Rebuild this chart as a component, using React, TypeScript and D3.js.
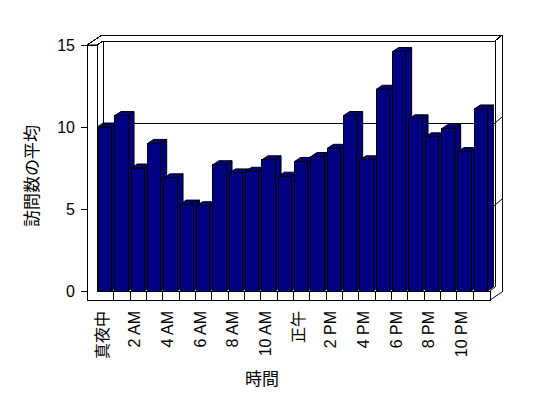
import React from "react";
import * as d3 from "d3";

const categories = [
  "真夜中", "1 AM", "2 AM", "3 AM", "4 AM", "5 AM", "6 AM", "7 AM", "8 AM", "9 AM", "10 AM", "11 AM",
  "正午", "1 PM", "2 PM", "3 PM", "4 PM", "5 PM", "6 PM", "7 PM", "8 PM", "9 PM", "10 PM", "11 PM",
];
const values = [
  10.0, 10.7, 7.5, 9.0, 6.9, 5.3, 5.2, 7.7, 7.2, 7.3, 8.0, 7.0,
  7.9, 8.2, 8.7, 10.7, 8.0, 12.3, 14.6, 10.5, 9.4, 9.9, 8.5, 11.1,
];
const yTicks = [0, 5, 10, 15];
const xTitle = "時間";
const yTitle = "訪問数の平均";

const FONT = "'Liberation Sans', 'Noto Sans CJK JP', Arial, sans-serif";
const BAR = "#000080";

export default function App() {
  const W = 548, H = 398;
  const left = 97, right = 489;
  const x = d3.scaleBand<string>().domain(categories).range([left, right]).padding(0);
  const y = d3.scaleLinear().domain([0, 15]).range([291, 45]);
  const step = x.step();
  const bw = step * 0.8;
  const dx = 6, dy = -4; // depth of plot (front -> inner back wall)
  const wallT = 10; // left wall thickness
  const floorB = y(0) + 9; // bottom of floor front face
  const outerL = left - wallT; // 87
  const top = y(15);
  const innerR = right + dx; // right edge inner back wall
  const outerR = innerR + 7;
  const outerTop = top - 10;
  const line = d3.line<[number, number]>();

  const sc = (v: number) => Math.round(v) + 0.5;

  return (
    <svg width={W} height={H} style={{ position: "absolute", left: 0, top: 0, background: "#fff" }}>
      <rect x={0} y={0} width={W} height={H} fill="#fff" />
      {/* wall top faces */}
      <path
        d={line([
          [outerL, top], [outerL + 15, outerTop], [outerR, outerTop], [innerR, top + dy],
          [left + dx, top + dy], [left, top],
        ])! + "Z"}
        fill="#fff" stroke="#000" shapeRendering="crispEdges"
      />
      <line x1={outerL} y1={top} x2={left} y2={top} stroke="#000" />
      {/* inner back corner lines */}
      <line x1={sc(left + dx)} y1={top + dy} x2={sc(left + dx)} y2={y(0) + dy} stroke="#000" shapeRendering="crispEdges" />
      <line x1={sc(innerR)} y1={top + dy} x2={sc(innerR)} y2={y(0) + dy} stroke="#000" shapeRendering="crispEdges" />
      <line x1={sc(outerR)} y1={outerTop} x2={sc(outerR)} y2={y(0) + 1} stroke="#000" shapeRendering="crispEdges" />
      {/* gridlines */}
      {yTicks.filter((t) => t > 0 && t < 15).map((t) => (
        <g key={t}>
          <line x1={left} y1={y(t)} x2={left + dx} y2={y(t) + dy} stroke="#000" />
          <line x1={left + dx} y1={sc(y(t) + dy)} x2={innerR} y2={sc(y(t) + dy)} stroke="#000" shapeRendering="crispEdges" />
          <line x1={innerR} y1={y(t) + dy} x2={outerR} y2={y(t) + dy - 6} stroke="#000" />
          <line x1={outerL} y1={sc(y(t))} x2={left} y2={sc(y(t))} stroke="#000" shapeRendering="crispEdges" />
        </g>
      ))}
      {/* y ticks outside */}
      {yTicks.map((t) => (
        <line key={"t" + t} x1={outerL - 6} y1={sc(y(t))} x2={outerL} y2={sc(y(t))} stroke="#000" shapeRendering="crispEdges" />
      ))}
      {/* floor right end */}
      <path
        d={line([[right + 1, y(0)], [innerR, y(0) + dy]])!}
        stroke="#000" fill="none"
      />
      <path
        d={line([[right + 1, floorB], [outerR, floorB - 8]])!}
        stroke="#000" fill="none"
      />
      {/* left wall front + floor front */}
      <path
        d={line([
          [sc(outerL), top], [sc(left), top], [sc(left), sc(y(0))], [sc(right + 1), sc(y(0))],
          [sc(right + 1), sc(floorB)], [sc(outerL), sc(floorB)],
        ])! + "Z"}
        fill="#fff" stroke="#000" shapeRendering="crispEdges"
      />
      {categories.slice(1).map((c) => (
        <line key={"d" + c} x1={sc(x(c)!)} y1={sc(y(0))} x2={sc(x(c)!)} y2={sc(floorB)} stroke="#000" shapeRendering="crispEdges" />
      ))}
      {/* bars */}
      {categories.map((c, i) => {
        const x0 = x(c)! + (step - bw) / 2;
        const x1 = x0 + bw;
        const yt = y(values[i]);
        const yb = y(0);
        return (
          <g key={c} fill={BAR} stroke="#000" strokeWidth={1} strokeLinejoin="miter">
            <path d={line([[x1, yt], [x1 + dx, yt + dy], [x1 + dx, yb + dy], [x1, yb]])! + "Z"} />
            <path d={line([[x0, yt], [x0 + dx, yt + dy], [x1 + dx, yt + dy], [x1, yt]])! + "Z"} />
            <rect x={x0} y={yt} width={bw} height={yb - yt} shapeRendering="crispEdges" />
          </g>
        );
      })}
      {/* y tick labels */}
      {yTicks.map((t) => (
        <text key={"l" + t} x={75} y={y(t)} textAnchor="end" dominantBaseline="central"
          fontFamily={FONT} fontSize={16} fill="#000">{t}</text>
      ))}
      {/* x labels */}
      {categories.map((c, i) => i % 2 === 0 ? (
        <text key={"x" + c}
          transform={`translate(${x(c)! + step / 2 - 3},311) rotate(-90)`}
          textAnchor="end" dominantBaseline="central"
          fontFamily={FONT} fontSize={16} fill="#000">{c}</text>
      ) : null)}
      <text x={262} y={379} textAnchor="middle" dominantBaseline="central" fontFamily={FONT} fontSize={17} fill="#000">{xTitle}</text>
      <text transform="translate(32,176) rotate(-90)" textAnchor="middle" dominantBaseline="central" fontFamily={FONT} fontSize={17} fill="#000">{yTitle}</text>
    </svg>
  );
}
